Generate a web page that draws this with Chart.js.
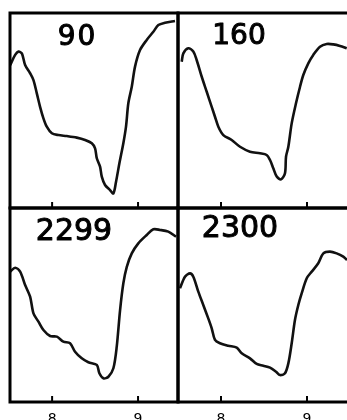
<!DOCTYPE html>
<html><head><meta charset="utf-8">
<script src="https://cdn.jsdelivr.net/npm/chart.js@4"></script>
<style>
html,body{margin:0;padding:0;background:#fff;width:347px;height:420px;overflow:hidden;position:relative}
canvas{position:absolute}
</style></head><body>
<canvas id="c1" width="184" height="212" style="left:0;top:0"></canvas>
<canvas id="c2" width="184" height="212" style="left:172px;top:0"></canvas>
<canvas id="c3" width="184" height="230" style="left:0;top:202px"></canvas>
<canvas id="c4" width="184" height="230" style="left:172px;top:202px"></canvas>
<script>
// Panel titles
const panelLabels = ["90", "160", "2299", "2300"];
// x tick labels
const tickValues = [8, 9];

// Panel "90"
const x90 = [7.512,7.570,7.608,7.648,7.686,7.744,7.783,7.822,7.860,7.899,7.938,7.997,8.073,8.171,8.287,8.384,8.462,8.500,8.520,8.558,8.578,8.616,8.674,8.713,8.744,8.783,8.829,8.860,8.887,8.927,8.965,9.023,9.101,9.178,9.236,9.314,9.430];
const y90 = [73.3,78.5,80.2,79.3,73.3,69.1,65.6,58.8,51.9,46.0,41.7,38.3,37.4,36.9,36.1,34.9,33.2,30.6,25.5,21.2,16.1,11.8,9.2,7.5,13.5,22.9,33.2,41.7,53.7,62.2,72.5,81.0,86.2,90.4,93.8,95.0,95.9];

// Panel "160"
const x160 = [7.543,7.562,7.620,7.678,7.717,7.776,7.834,7.892,7.930,7.969,8.027,8.124,8.221,8.337,8.453,8.531,8.570,8.608,8.648,8.698,8.744,8.756,8.783,8.822,8.872,8.919,8.957,9.015,9.073,9.151,9.229,9.306,9.384,9.462];
const y160 = [75.0,79.3,81.9,80.2,75.9,67.3,59.6,51.9,46.8,41.7,37.4,34.9,31.4,28.9,28.1,27.2,24.6,20.4,16.1,14.7,17.8,26.3,31.4,43.4,53.7,62.2,68.2,74.2,78.5,82.7,84.1,83.9,83.1,81.9];

// Panel "2299"
const x2299 = [7.512,7.570,7.628,7.686,7.744,7.783,7.841,7.899,7.977,8.055,8.131,8.209,8.267,8.345,8.422,8.520,8.550,8.597,8.655,8.713,8.752,8.791,8.829,8.869,8.927,9.003,9.101,9.178,9.256,9.352,9.442];
const y2299 = [67.2,69.2,67.2,60.3,54.3,45.7,41.4,37.1,34.0,33.7,31.1,30.3,25.9,22.5,20.5,19.1,14.8,12.2,13.0,17.4,28.5,47.4,61.2,69.7,76.6,81.8,86.1,89.0,88.7,87.8,85.2];

// Panel "2300"
const x2300 = [7.523,7.581,7.640,7.678,7.736,7.794,7.852,7.892,7.930,7.988,8.085,8.183,8.241,8.337,8.415,8.492,8.570,8.640,8.686,8.744,8.783,8.822,8.860,8.899,8.938,8.997,9.055,9.131,9.190,9.267,9.345,9.422,9.465];
const y2300 = [58.6,64.6,66.3,64.6,56.9,50.0,43.1,38.0,32.0,30.3,29.0,28.0,25.1,22.5,19.6,18.7,17.7,15.6,13.9,14.8,19.9,30.3,42.3,50.0,56.0,63.8,67.2,71.5,76.6,77.5,76.6,74.9,73.2];

const decor = {
  id: 'decor',
  afterDraw(chart, args, o) {
    const ctx = chart.ctx, a = chart.chartArea;
    ctx.save();
    ctx.strokeStyle = '#000';
    ctx.lineWidth = 3;
    ctx.strokeRect(a.left, a.top, a.right - a.left, a.bottom - a.top);
    ctx.lineWidth = 2;
    tickValues.forEach(v => {
      const px = chart.scales.x.getPixelForValue(v);
      ctx.beginPath();
      ctx.moveTo(px, a.bottom);
      ctx.lineTo(px, a.bottom - 6);
      ctx.stroke();
    });
    ctx.fillStyle = '#000';
    ctx.font = o.size + 'px "DejaVu Sans"';
    ctx.letterSpacing = o.sp + 'px';
    ctx.textAlign = 'center';
    ctx.textBaseline = 'alphabetic';
    ctx.lineWidth = 1;
    ctx.lineJoin = 'round';
    ctx.fillText(o.text, o.lx, o.ly);
    ctx.strokeText(o.text, o.lx, o.ly);
    ctx.restore();
  }
};

function make(id, xs, ys, label, xmin, xmax, pad, bottomAxis, lx, ly, size, sp) {
  const data = xs.map((x, i) => ({x: x, y: ys[i]}));
  new Chart(document.getElementById(id), {
    type: 'line',
    data: { datasets: [{ data: data, borderColor: '#111', borderWidth: 2.6, pointRadius: 0, tension: 0.3, fill: false }] },
    options: {
      responsive: false, animation: false, devicePixelRatio: 1,
      layout: { padding: pad },
      plugins: { legend: { display: false }, tooltip: { enabled: false },
        decor: { text: label, lx: lx, ly: ly, size: size, sp: sp } },
      scales: {
        x: {
          type: 'linear', min: xmin, max: xmax, display: bottomAxis,
          grid: { display: false, drawTicks: false }, border: { display: false },
          afterBuildTicks: s => { s.ticks = tickValues.map(v => ({value: v})); },
          afterFit: s => { if (bottomAxis) s.height = 30; },
          ticks: { color: '#000', padding: 9, font: { family: 'DejaVu Sans', size: 14 } }
        },
        y: { type: 'linear', min: 0, max: 100, display: false }
      }
    },
    plugins: [decor]
  });
}

make('c1', x90, y90, panelLabels[0], 7.51, 9.465, {left: 10, top: 13, right: 6, bottom: 4}, false, 77.5, 45, 28, 2);
make('c2', x160, y160, panelLabels[1], 7.5, 9.5, {left: 6, top: 13, right: 6, bottom: 4}, false, 67, 43.5, 28, 0);
make('c3', x2299, y2299, panelLabels[2], 7.51, 9.465, {left: 10, top: 6, right: 6, bottom: 0}, true, 74, 38, 30, 0);
make('c4', x2300, y2300, panelLabels[3], 7.5, 9.5, {left: 6, top: 6, right: 6, bottom: 0}, true, 68, 34.7, 30, 0);
</script>
</body></html>
